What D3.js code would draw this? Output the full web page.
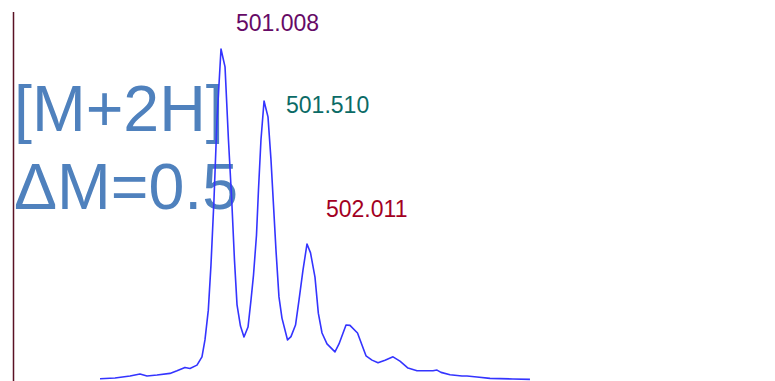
<!DOCTYPE html>
<html>
<head>
<meta charset="utf-8">
<script src="https://cdn.jsdelivr.net/npm/d3@7"></script>
<style>
  html, body { margin: 0; padding: 0; background: #fff; }
  svg { display: block; }
</style>
</head>
<body>
<script>
// Isotope envelope of the doubly charged ion (m/z vs relative intensity)
const mz = [
  499.597, 499.772, 499.947, 500.063, 500.145, 500.262, 500.413, 500.495, 500.588, 500.646,
  500.728, 500.786, 500.821, 500.860, 500.891, 500.926, 500.961, 501.008, 501.055, 501.095,
  501.133, 501.165, 501.195, 501.235, 501.276, 501.323, 501.358, 501.387, 501.422, 501.445,
  501.474, 501.510, 501.556, 501.591, 501.620, 501.649, 501.684, 501.719, 501.784, 501.824,
  501.877, 501.918, 501.964, 502.011, 502.052, 502.104, 502.143, 502.186, 502.244, 502.337,
  502.384, 502.466, 502.512, 502.600, 502.652, 502.699, 502.769, 502.839, 502.921, 503.014,
  503.095, 503.189, 503.294, 503.480, 503.527, 503.574, 503.679, 503.818, 503.877, 503.993,
  504.145, 504.413, 504.611
];
const intensity = [
  0.4, 0.6, 1.2, 1.8, 1.2, 1.5, 2.0, 2.8, 3.8, 3.5,
  4.5, 7.0, 12.1, 21.1, 34.7, 54.4, 78.5, 100.0, 94.6, 72.5,
  54.4, 36.3, 22.7, 16.3, 13.0, 16.0, 24.2, 31.7, 43.8, 57.4,
  72.5, 84.3, 79.5, 66.5, 52.9, 39.3, 25.1, 18.7, 12.1, 13.1,
  16.6, 24.2, 33.2, 41.1, 38.4, 31.1, 20.2, 14.2, 10.9, 8.5,
  10.9, 16.6, 16.5, 14.2, 10.6, 7.3, 6.0, 5.2, 6.0, 7.0,
  5.7, 3.6, 2.8, 2.8, 3.0, 2.3, 1.6, 1.2, 1.2, 0.9,
  0.5, 0.3, 0.2
];

// Peak annotations
const peakLabels = ["501.008", "501.510", "502.011"];
const peakColors = ["#660a66", "#0b6b66", "#a3001f"];

// Title lines
const titleLines = ["[M+2H]", "\u0394M=0.5"];

const W = 775, H = 381;

const svg = d3.select("body").append("svg")
  .attr("width", W).attr("height", H);

const xMin = 501.008 - 208 / 85.75;
const x = d3.scaleLinear().domain([xMin, xMin + 762 / 85.75]).range([13, 775]);
const y = d3.scaleLinear().domain([0, 100]).range([380, 49]);

// vertical axis line
svg.append("line")
  .attr("x1", x(xMin) + 0.5).attr("x2", x(xMin) + 0.5)
  .attr("y1", 12).attr("y2", H)
  .attr("stroke", "#5a1224").attr("stroke-width", 1.5);

// big annotation text
svg.selectAll("text.title").data(titleLines).enter().append("text")
  .attr("class", "title")
  .attr("x", 14)
  .attr("y", (d, i) => [131, 209][i])
  .attr("font-family", "Liberation Sans, Arial, sans-serif")
  .attr("font-size", 64.5)
  .attr("fill", "#4f81bd")
  .text(d => d);

// spectrum trace
const pts = mz.map((m, i) => [m, intensity[i]]);
svg.append("path")
  .datum(pts)
  .attr("fill", "none")
  .attr("stroke", "#3434ff")
  .attr("stroke-width", 1.6)
  .attr("stroke-linejoin", "round")
  .attr("d", d3.line().x(d => x(d[0])).y(d => y(d[1])));

// peak labels placed to the right of each apex
const peakOffsets = [[15, -18], [22, 12], [19, -27]];
peakLabels.forEach((lab, i) => {
  const m = +lab;
  const idx = mz.indexOf(m);
  const px = x(m), py = y(intensity[idx]);
  svg.append("text")
    .attr("x", px + peakOffsets[i][0])
    .attr("y", py + peakOffsets[i][1])
    .attr("font-family", "Liberation Sans, Arial, sans-serif")
    .attr("font-size", 23)
    .attr("fill", peakColors[i])
    .text(lab);
});
</script>
</body>
</html>
